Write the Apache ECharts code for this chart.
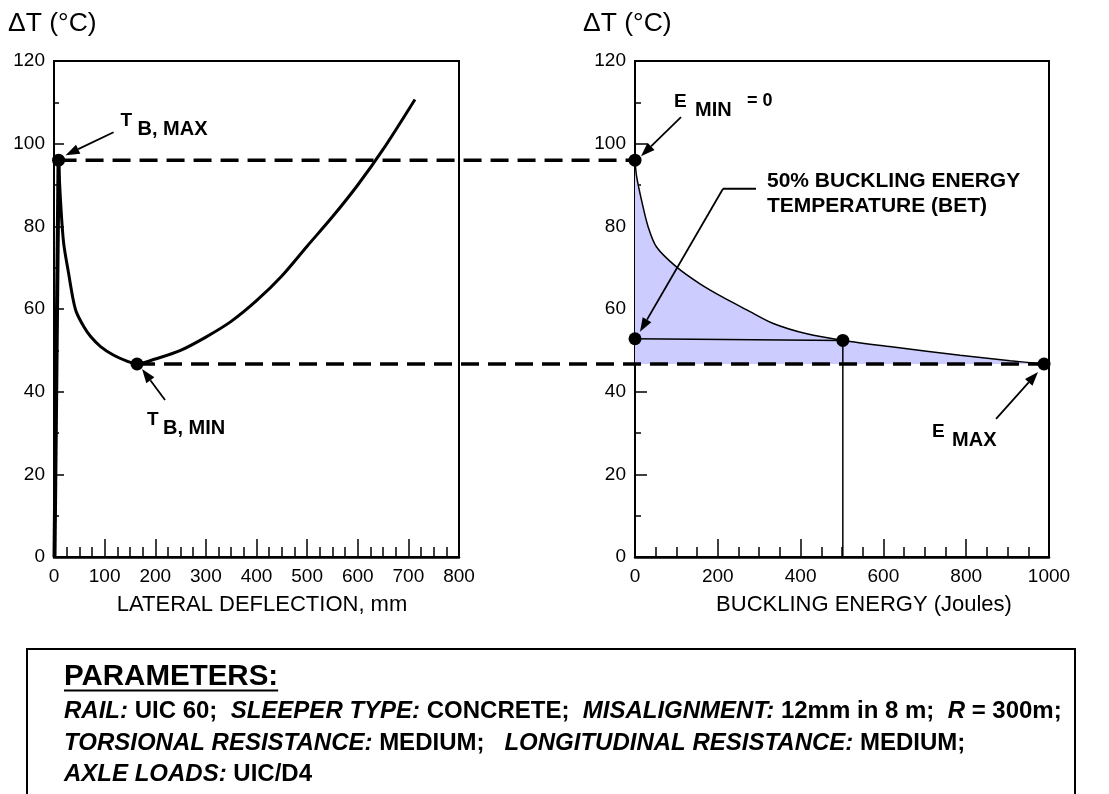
<!DOCTYPE html>
<html><head><meta charset="utf-8">
<script src="https://cdn.jsdelivr.net/npm/echarts@6/dist/echarts.min.js"></script>
<style>html,body{margin:0;padding:0;background:#fff}#c{width:1109px;height:794px}</style>
</head><body><div id="c"></div>
<script>
// ---------- data ----------
const leftXTicks = [0, 800, 100];          // min, max, interval (lateral deflection, mm)
const rightXTicks = [0, 1000, 200];        // min, max, interval (buckling energy, J)
const yTicks = [0, 120, 20];               // delta T (°C)
const tbMax = [9, 96];                     // T_B,MAX on the left chart
const tbMin = [164, 46.7];                 // T_B,MIN on the left chart
const leftRise = [[1, 0], [9, 96]];
const leftCurve = [[9,96],[13,86],[19,76],[29,68.5],[37,62.8],[44,59.3],[59,55.7],[72,53.4],[92,50.9],[118,48.8],[144,47.4],[164,46.7],[200,47.9],[250,50.0],[300,53.2],[350,57.0],[400,62.0],[450,68.0],[500,75.2],[550,82.3],[600,90.0],[650,98.6],[713,110.7]];
const eMin = [0, 96];
const eMax = [988, 46.7];
const rightCurve = [[0,96],[4,92],[16,86.2],[32,79.8],[52,75],[100,70.2],[157,66.1],[213,62.8],[270,59.8],[334,56.5],[415,54],[503,52.4],[624,50.8],[785,48.8],[906,47.5],[988,46.7]];
const betStart = [0, 52.8];
const betPoint = [502, 52.4];
const betDrop = [[502, 52.4], [502, 0]];
const areaBase = 46.7;

const FONT = "'Liberation Sans', Arial, Helvetica, sans-serif";
const chart = echarts.init(document.getElementById('c'), null, {renderer: 'canvas'});

function xAx(gi, t, name, padLeft) {
  return {
    type: 'value', gridIndex: gi, min: t[0], max: t[1], interval: t[2], name: name,
    nameLocation: 'middle', nameGap: 37,
    nameTextStyle: {fontSize: 22, color: '#000', fontFamily: FONT, padding: [0, 0, 0, padLeft]},
    axisLine: {show: true, onZero: false, lineStyle: {color: '#000', width: 2.5}},
    axisTick: {show: true, inside: true, length: 18, lineStyle: {color: '#000', width: 1.5}},
    minorTick: {show: true, splitNumber: 4, length: 10, lineStyle: {color: '#000', width: 1.5}},
    axisLabel: {fontSize: 19, color: '#000', fontFamily: FONT, margin: 10, showMinLabel: true, showMaxLabel: true,
      formatter: v => String(v)},
    splitLine: {show: false}, minorSplitLine: {show: false}
  };
}
function yAx(gi, tickLen, minorLen) {
  return {
    type: 'value', gridIndex: gi, min: yTicks[0], max: yTicks[1], interval: yTicks[2],
    axisLine: {show: true, onZero: false, lineStyle: {color: '#000', width: 1.5}},
    axisTick: {show: true, inside: true, length: tickLen, lineStyle: {color: '#000', width: 1.5}},
    minorTick: {show: true, splitNumber: 2, length: minorLen, lineStyle: {color: '#000', width: 1.5}},
    axisLabel: {fontSize: 19, color: '#000', fontFamily: FONT, margin: 9, formatter: v => String(v)},
    splitLine: {show: false}, minorSplitLine: {show: false}
  };
}

chart.setOption({
  animation: false,
  backgroundColor: '#fff',
  grid: [
    {left: 54, top: 61, width: 405, height: 496, show: true, borderColor: '#000', borderWidth: 2, backgroundColor: 'transparent'},
    {left: 635, top: 61, width: 414, height: 496, show: true, borderColor: '#000', borderWidth: 2, backgroundColor: 'transparent'}
  ],
  xAxis: [xAx(0, leftXTicks, 'LATERAL DEFLECTION, mm', 11), xAx(1, rightXTicks, 'BUCKLING ENERGY (Joules)', 44)],
  yAxis: [yAx(0, 10, 5), yAx(1, 12, 6)],
  series: [
    {type: 'line', xAxisIndex: 0, yAxisIndex: 0, data: leftRise, symbol: 'none', clip: false,
     lineStyle: {color: '#000', width: 4}},
    {type: 'line', xAxisIndex: 0, yAxisIndex: 0, data: leftCurve, symbol: 'none', smooth: 0.3, clip: false,
     lineStyle: {color: '#000', width: 3}},
    {type: 'scatter', xAxisIndex: 0, yAxisIndex: 0, data: [tbMax, tbMin], symbolSize: 13,
     itemStyle: {color: '#000', opacity: 1}, z: 6},
    {type: 'line', xAxisIndex: 1, yAxisIndex: 1, data: rightCurve, symbol: 'none', smooth: 0.3, clip: false,
     lineStyle: {color: '#000', width: 1.5},
     areaStyle: {color: '#ccccff', opacity: 1, origin: areaBase}},
    {type: 'line', xAxisIndex: 1, yAxisIndex: 1, data: [betStart, betPoint], symbol: 'none', clip: false,
     lineStyle: {color: '#000', width: 1.5}},
    {type: 'line', xAxisIndex: 1, yAxisIndex: 1, data: betDrop, symbol: 'none', clip: false,
     lineStyle: {color: '#000', width: 1.5}},
    {type: 'scatter', xAxisIndex: 1, yAxisIndex: 1, data: [eMin, betStart, betPoint, eMax], symbolSize: 13,
     itemStyle: {color: '#000', opacity: 1}, z: 6}
  ]
});

// ---------- annotations (anchored to data via the chart's scales) ----------
const px = (gi, pt) => chart.convertToPixel({gridIndex: gi}, pt);
function arrow(x1, y1, x2, y2) {
  const a = Math.atan2(y2 - y1, x2 - x1), L = 14, W = 5;
  const bx = x2 - L * Math.cos(a), by = y2 - L * Math.sin(a);
  const nx = -Math.sin(a) * W, ny = Math.cos(a) * W;
  return [
    {type: 'line', silent: true, z: 100, shape: {x1: x1, y1: y1, x2: bx, y2: by}, style: {stroke: '#000', lineWidth: 1.8}},
    {type: 'polygon', silent: true, z: 100, shape: {points: [[x2, y2], [bx + nx, by + ny], [bx - nx, by - ny]]}, style: {fill: '#000'}}
  ];
}
function txt(x, base, s, size, weight) {
  return {type: 'text', silent: true, z: 100, x: x, y: base - 0.36 * size,
    style: {text: s, fontSize: size, fontWeight: weight || 'normal', fontFamily: FONT, fill: '#000', align: 'left', verticalAlign: 'middle'}};
}
function dash(a, b) {
  return {type: 'line', silent: true, z: 4, shape: {x1: a[0], y1: a[1], x2: b[0], y2: b[1]},
    style: {stroke: '#000', lineWidth: 3.5, lineDash: [18, 9]}};
}

const pTM = px(0, tbMax), pTm = px(0, tbMin), pEm = px(1, eMin), pEM = px(1, eMax), pB = px(1, betStart);
const g = [];
g.push(dash(pTM, pEm), dash(pTm, pEM));
// T_B,MAX
g.push(...arrow(pTM[0] + 55, pTM[1] - 28, pTM[0] + 7, pTM[1] - 5));
g.push(txt(pTM[0] + 62, pTM[1] - 33, 'T', 19, 'bold'), txt(pTM[0] + 79, pTM[1] - 24, 'B, MAX', 20, 'bold'));
// T_B,MIN
g.push(...arrow(pTm[0] + 28, pTm[1] + 36, pTm[0] + 5, pTm[1] + 5));
g.push(txt(pTm[0] + 10, pTm[1] + 63, 'T', 19, 'bold'), txt(pTm[0] + 26, pTm[1] + 72, 'B, MIN', 20, 'bold'));
// E_MIN = 0
g.push(...arrow(pEm[0] + 46, pEm[1] - 43, pEm[0] + 6, pEm[1] - 4));
g.push(txt(pEm[0] + 39, pEm[1] - 52, 'E', 19, 'bold'), txt(pEm[0] + 60, pEm[1] - 43, 'MIN', 20, 'bold'),
       txt(pEm[0] + 112, pEm[1] - 53, '= 0', 18, 'bold'));
// BET
g.push({type: 'polyline', silent: true, z: 100, shape: {points: [[pB[0] + 121, pB[1] - 150], [pB[0] + 88, pB[1] - 150]]}, style: {stroke: '#000', lineWidth: 1.8, fill: null}});
g.push(...arrow(pB[0] + 88, pB[1] - 150, pB[0] + 5, pB[1] - 7));
g.push(txt(pB[0] + 132, pB[1] - 150, '50% BUCKLING ENERGY', 21, 'bold'), txt(pB[0] + 132, pB[1] - 125, 'TEMPERATURE (BET)', 21, 'bold'));
// E_MAX
g.push(...arrow(pEM[0] - 48, pEM[1] + 55, pEM[0] - 6, pEM[1] + 8));
g.push(txt(pEM[0] - 112, pEM[1] + 75, 'E', 19, 'bold'), txt(pEM[0] - 92, pEM[1] + 84, 'MAX', 20, 'bold'));
// axis titles (delta T)
g.push(txt(8, 33, 'ΔT (°C)', 26.5, 'normal'), txt(583, 33, 'ΔT (°C)', 26.5, 'normal'));

// parameters box
g.push({type: 'rect', silent: true, z: 100, shape: {x: 27, y: 649, width: 1048, height: 200}, style: {stroke: '#000', lineWidth: 2, fill: null}});
const PS = 29.5, LS = 24;
g.push(txt(64, 687, 'PARAMETERS:', PS, 'bold'));
const cv = document.createElement('canvas').getContext('2d');
cv.font = 'bold ' + PS + 'px ' + FONT;
const uw = cv.measureText('PARAMETERS:').width;
g.push({type: 'line', silent: true, z: 100, shape: {x1: 64, y1: 690.5, x2: 64 + uw, y2: 690.5}, style: {stroke: '#000', lineWidth: 2}});
const rich = {
  bi: {fontStyle: 'italic', fontWeight: 'bold', fontSize: LS, fontFamily: FONT, fill: '#000', color: '#000'},
  b: {fontWeight: 'bold', fontSize: LS, fontFamily: FONT, fill: '#000', color: '#000'}
};
const paramLines = [
  '{bi|RAIL:}{b| UIC 60;  }{bi|SLEEPER TYPE:}{b| CONCRETE;  }{bi|MISALIGNMENT:}{b| 12mm in 8 m;  }{bi|R}{b| = 300m;}',
  '{bi|TORSIONAL RESISTANCE:}{b| MEDIUM;   }{bi|LONGITUDINAL RESISTANCE:}{b| MEDIUM;}',
  '{bi|AXLE LOADS:}{b| UIC/D4}'
];
const paramBase = [720, 751.7, 783.3];
paramLines.forEach((s, i) => {
  g.push({type: 'text', silent: true, z: 100, x: 64, y: paramBase[i] - 0.36 * LS,
    style: {text: s, rich: rich, fontSize: LS, fontFamily: FONT, fill: '#000', align: 'left', verticalAlign: 'middle'}});
});

chart.setOption({graphic: g});
</script>
</body></html>
